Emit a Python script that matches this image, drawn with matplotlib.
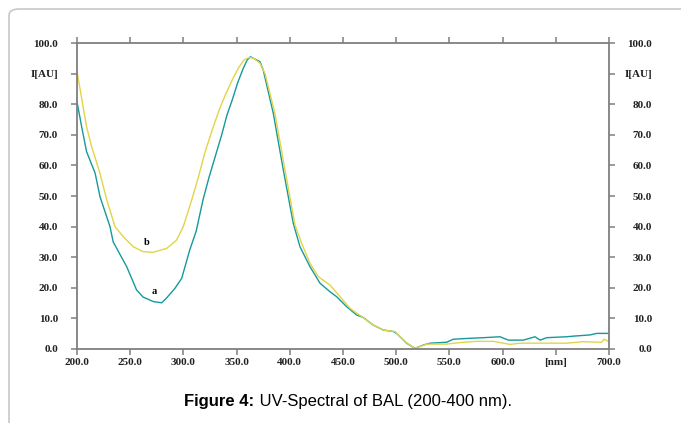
import matplotlib
matplotlib.use('Agg')
import matplotlib.pyplot as plt
from matplotlib.patches import FancyBboxPatch

# curve a (teal)
nm_a = [200, 204.4, 209, 217, 221.6, 231, 234, 246.7, 256, 262, 271.7, 279.6, 284, 292, 298.4,
        306, 312, 318.4, 324, 330, 336, 341, 346, 351, 356, 360, 363, 367, 372, 375, 384.5,
        393.9, 403.3, 409.6, 419, 428.4, 437.8, 444, 453.5, 462.9, 469, 478.5, 487.9, 497.3,
        500.4, 509.8, 517.7, 525.5, 531.8, 547.4, 553.7, 569.4, 582, 597.6, 605.4, 619.5,
        630.5, 635.2, 641.4, 660.2, 666.5, 682.1, 688.4, 700]
int_a = [80.8, 72.6, 64.5, 57.5, 49.8, 40, 35, 26.9, 19.3, 17, 15.5, 15.1, 16.6, 19.8, 23.1,
         32.4, 38.5, 48.7, 56, 63, 70, 76.5, 81.5, 87, 91.5, 94.5, 95.5, 94.8, 93.9, 91.2, 77,
         58.5, 41, 33.4, 26.9, 21.5, 18.7, 17.1, 13.8, 11.1, 10.3, 7.8, 6.2, 5.7,
         5.1, 1.9, 0.2, 1.3, 1.9, 2.2, 3.2, 3.5, 3.7, 4.0, 2.9, 2.9,
         4.0, 2.9, 3.7, 4.0, 4.2, 4.6, 5.1, 5.1]

# curve b (yellow)
nm_b = [200, 209, 213.8, 221.6, 228, 235.7, 243.5, 252.9, 262.3, 271.7, 284.3, 293.6, 299.9,
        307.8, 314, 320, 327, 334, 340, 346, 352, 357, 362, 366, 372, 376.7, 386, 395.5,
        404.9, 411.2, 419, 426.9, 437.8, 447.2, 456.6, 467.5, 478.5, 487.9, 498.9, 508.3,
        517.7, 528.7, 547.4, 560, 575.7, 591.3, 600.7, 607, 616.4, 644.6, 660.2, 675.9,
        693.1, 695.3, 700]
int_b = [90.8, 72.6, 66.1, 57.4, 48.7, 40, 36.7, 33.4, 31.8, 31.6, 32.9, 35.6, 40,
         48.7, 56, 64, 71.5, 78.5, 83.5, 88, 92, 94.5, 95.3, 95, 93.4, 90, 77, 58.5,
         40.5, 34.5, 28, 23.6, 20.9, 17.1, 13.3, 10.6, 7.8, 6.2, 5.7, 2.4,
         0.2, 1.6, 1.6, 2.1, 2.5, 2.5, 1.9, 1.5, 1.9, 1.9, 1.9, 2.4,
         2.2, 3.2, 2.4]

xticks = [200, 250, 300, 350, 400, 450, 500, 550, 600, 650, 700]
xlabels = ['200.0', '250.0', '300.0', '350.0', '400.0', '450.0', '500.0', '550.0', '600.0', '[nm]', '700.0']
yticks = [0, 10, 20, 30, 40, 50, 60, 70, 80, 90, 100]
ylabels = ['0.0', '10.0', '20.0', '30.0', '40.0', '50.0', '60.0', '70.0', '80.0', 'I[AU]', '100.0']

teal = '#16999b'
yellow = '#e2d448'
spine = '#7f7f7f'
px = 0.72  # points per pixel at dpi 100

fig = plt.figure(figsize=(6.81, 4.23), dpi=100)

# rounded frame around the figure panel
frame = FancyBboxPatch((9/681, -0.1), 1.1, 1 - 9/423 + 0.1,
                       boxstyle='round,pad=0,rounding_size=0.015',
                       transform=fig.transFigure, fill=False,
                       edgecolor='#c8c8c8', lw=1.2)
fig.patches.append(frame)

ax = fig.add_axes([77/681, 1 - 349/423, 532/681, 306/423])
ax.plot(nm_a, int_a, color=teal, lw=1.0)
ax.plot(nm_b, int_b, color=yellow, lw=1.0)
ax.text(273, 17.3, 'a', family='Liberation Serif', weight='bold', fontsize=7.5, ha='center', va='bottom')
ax.text(265.8, 33.3, 'b', family='Liberation Serif', weight='bold', fontsize=7.5, ha='center', va='bottom')

ax.set_xlim(200, 700)
ax.set_ylim(0, 100)
ax.set_xticks(xticks)
ax.set_xticklabels(xlabels)
ax.set_yticks(yticks)
ax.set_yticklabels(ylabels)

for s in ax.spines.values():
    s.set_color(spine)
    s.set_linewidth(1.3)

ax.tick_params(axis='both', direction='out', length=6*px, width=1.1, color=spine,
               labelsize=8)
ax.tick_params(axis='x', pad=3*px)
ax.tick_params(top=True, right=True, labelright=True)
for t in ax.yaxis.get_major_ticks():
    t.set_pad(13*px)
    t.label2.set_horizontalalignment('right')
for lbl in ax.get_xticklabels():
    lbl.set_family('Liberation Serif')
    lbl.set_weight('bold')
    lbl.set_color('#222222')
for t in ax.yaxis.get_major_ticks():
    for lbl in (t.label1, t.label2):
        lbl.set_family('Liberation Serif')
        lbl.set_weight('bold')
        lbl.set_color('#222222')

# right-side labels are right aligned near x=652
import matplotlib.transforms as mtransforms
offset = mtransforms.ScaledTranslation(24/100, 0, fig.dpi_scale_trans)
for t in ax.yaxis.get_major_ticks():
    t.label2.set_transform(t.label2.get_transform() + offset)

cap_bold = fig.text(0, 1 - 401/423, 'Figure 4:', family='Liberation Sans', weight='bold', fontsize=12, va='center')
cap_rest = fig.text(0, 1 - 401/423, ' UV-Spectral of BAL (200-400 nm).', family='Liberation Sans', fontsize=12, va='center')
fig.canvas.draw()
r = fig.canvas.get_renderer()
w1 = cap_bold.get_window_extent(r).width
w2 = cap_rest.get_window_extent(r).width
start = 348 - (w1 + w2) / 2
cap_bold.set_x(start / 681)
cap_rest.set_x((start + w1) / 681)

fig.savefig('out.png', dpi=100)
